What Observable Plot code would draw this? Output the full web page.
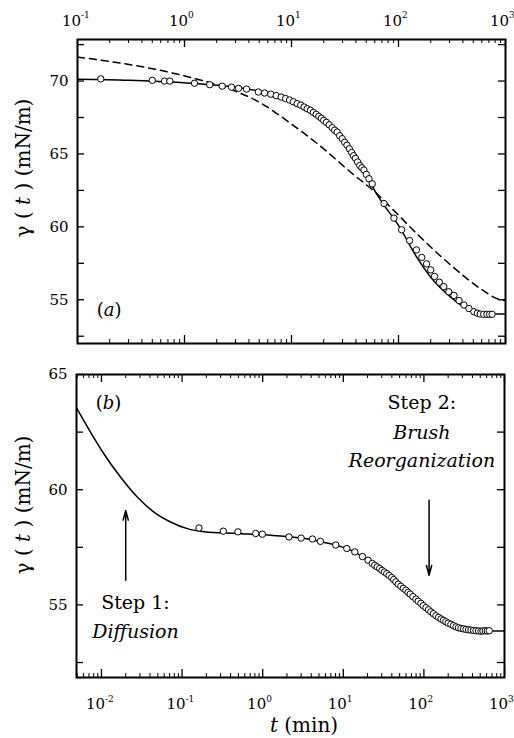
<!DOCTYPE html>
<html><head><meta charset="utf-8">
<script src="https://cdn.jsdelivr.net/npm/d3@7"></script>
<script src="https://cdn.jsdelivr.net/npm/@observablehq/plot@0.6"></script>
<style>
html,body{margin:0;padding:0;background:#fff;overflow:hidden;}
#chart svg{display:block;}
</style></head><body><div id="chart"></div>
<script>
// ---------- Panel (a) ----------
const aDataT = [0.165,0.50,0.65,0.73,1.24,1.72,2.25,2.75,3.2,3.8,4.9,5.6,6.4,7.2,8.0,8.8,9.6,10.4,11.3,12.2,13.1,14.0,15.0,16.0,17.0,18.0,19.0,20.0,21.2,22.5,24.0,25.3,26.7,28.2,29.8,31.4,33.0,34.7,36.5,38.0,39.6,41.5,43.5,45.5,47.5,50.0,53.0,56.8,73.2,90.6,107,127,147,165,183,200,217,241,265,295,330,368,409,455,506,545,580,625,670,710,750];
const aDataG = [70.15,70.05,70.0,70.0,69.85,69.75,69.65,69.58,69.5,69.45,69.25,69.18,69.1,69.0,68.9,68.8,68.7,68.58,68.45,68.35,68.22,68.1,68.0,67.85,67.72,67.58,67.45,67.3,67.17,67.0,66.8,66.63,66.5,66.25,66.05,65.8,65.6,65.35,65.1,64.88,64.7,64.45,64.2,64.05,63.9,63.6,63.3,62.95,61.6,60.6,59.8,59.06,58.42,57.9,57.46,57.05,56.6,56.2,55.9,55.55,55.3,54.95,54.64,54.4,54.18,54.08,54.02,54.0,54.0,54.0,54.0];
const aFitT = [0.1,0.3,1,2,3,5,7,10,15,20,30,40,50,70,100,150,200,300,400,500,700,1000];
const aFitG = [70.12,70.05,69.88,69.72,69.58,69.3,69.0,68.6,68.0,67.35,65.95,64.6,63.45,61.7,60.1,57.85,56.55,55.25,54.55,54.2,54.04,54.02];
const aDashT = [0.1,0.2,0.5,1,2,3,5,10,20,35,60,100,150,300,600,850,1000];
const aDashG = [71.65,71.35,70.85,70.35,69.75,69.3,68.55,67.05,65.35,63.8,62.4,60.8,59.5,57.45,55.7,55.05,54.95];

// ---------- Panel (b) ----------
const bDataT = [0.162,0.325,0.493,0.82,0.99,2.12,3.0,4.14,5.2,8.07,11.05,13.9,17.3,20.3,22.9,24.5,26.3,28.3,30.2,32.3,34.6,37,39.8,42.2,44.9,48,51.7,55.5,59.7,63.5,67.6,73,79.6,85,91.8,98,106,114,122,131,141,152,163,175,187,200,216,232,250,268,288,310,333,358,384,413,443,476,511,540,577,610,647];
const bDataG = [58.34,58.2,58.17,58.1,58.07,57.95,57.9,57.86,57.76,57.6,57.45,57.3,57.1,56.94,56.8,56.72,56.65,56.58,56.5,56.43,56.36,56.28,56.19,56.1,56.0,55.9,55.81,55.72,55.64,55.55,55.47,55.36,55.25,55.16,55.07,54.97,54.88,54.79,54.7,54.62,54.53,54.46,54.39,54.33,54.27,54.21,54.16,54.1,54.05,54.01,53.98,53.96,53.94,53.92,53.91,53.89,53.88,53.87,53.86,53.87,53.88,53.87,53.88];
const bFitT = [0.0049,0.0073,0.0107,0.0172,0.0278,0.0447,0.072,0.116,0.187,0.485,1.26,3,5,8,12,20,30,45,60,80,100,150,200,300,500,1000];
const bFitG = [63.55,62.5,61.56,60.55,59.68,59.03,58.6,58.31,58.18,58.1,58.02,57.9,57.76,57.6,57.4,56.95,56.5,56.0,55.62,55.25,54.95,54.45,54.2,53.96,53.87,53.87];

// ---------- Axes ticks / labels ----------
const decadesA = [0.1,1,10,100,1000];
const expA = ["-1","0","1","2","3"];
const decadesB = [0.01,0.1,1,10,100,1000];
const expB = ["-2","-1","0","1","2","3"];
const yLabelTicksA = [55,60,65,70];
const yMinorA = [52.5,57.5,62.5,67.5,72.5];
const yLabelTicksB = [55,60,65];
const yMinorB = [52.5,57.5,62.5];
const yLabel = [["γ ( ",false],["t",true],[" ) (mN/m)",false]];
const xLabel = [["t",true],[" (min)",false]];

const toRows = (T, G) => T.map((t, i) => ({t, g: G[i]}));
const minorOf = (dom, dec) => d3.scaleLog().domain(dom).ticks().filter(v => !dec.some(d => Math.abs(v - d) / d < 1e-9));

const FONT = "DejaVu Serif";
const W = 514;

function frameTicks(xMajor, xMinor, yMajor, fw, fh) {
  return [
    Plot.tickX(xMajor, {x: d => d, insetTop: fh - 8, strokeWidth: 1.3}),
    Plot.tickX(xMajor, {x: d => d, insetBottom: fh - 8, strokeWidth: 1.3}),
    Plot.tickX(xMinor, {x: d => d, insetTop: fh - 4}),
    Plot.tickX(xMinor, {x: d => d, insetBottom: fh - 4}),
    Plot.tickY(yMajor, {y: d => d, insetRight: fw - 7, strokeWidth: 1.3}),
    Plot.tickY(yMajor, {y: d => d, insetLeft: fw - 7, strokeWidth: 1.3})
  ];
}

function mixedText(svg, x, y, parts, size, rotate = 0, anchor = "middle") {
  const t = d3.select(svg).append("text")
    .attr("transform", `translate(${x},${y})` + (rotate ? ` rotate(${rotate})` : ""))
    .attr("text-anchor", anchor)
    .attr("font-family", FONT)
    .attr("font-size", size)
    .attr("fill", "black");
  for (const [s, it] of parts) t.append("tspan").attr("font-style", it ? "italic" : "normal").text(s);
}

// ---------- Plot (a) ----------
const mA = {top: 39, bottom: 15, left: 77, right: 9}, hA = 358;
const fwA = W - mA.left - mA.right, fhA = hA - mA.top - mA.bottom;
const xDomA = [0.1, 1000];
const plotA = Plot.plot({
  width: W, height: hA,
  marginTop: mA.top, marginBottom: mA.bottom, marginLeft: mA.left, marginRight: mA.right,
  style: {fontFamily: FONT, fontSize: "15px", color: "black", background: "white"},
  x: {type: "log", domain: xDomA, axis: null},
  y: {domain: [52, 72.85], label: null},
  marks: [
    ...frameTicks(decadesA, minorOf(xDomA, decadesA), [...yLabelTicksA, ...yMinorA], fwA, fhA),
    Plot.axisY({ticks: yLabelTicksA, tickSize: 0, tickPadding: 9, label: null, fontSize: 15}),
    Plot.text(decadesA, {x: d => d, frameAnchor: "top", lineAnchor: "bottom", dy: -14, dx: 3.5, textAnchor: "end", text: () => "10", fontSize: 15}),
    Plot.text(decadesA, {x: d => d, frameAnchor: "top", lineAnchor: "bottom", dy: -22, dx: 3.5, textAnchor: "start", text: (d, i) => expA[i], fontSize: 9}),
    Plot.line(toRows(aDashT, aDashG), {x: "t", y: "g", stroke: "black", strokeWidth: 1.5, strokeDasharray: "7,5", curve: "monotone-x"}),
    Plot.line(toRows(aFitT, aFitG), {x: "t", y: "g", stroke: "black", strokeWidth: 1.5, curve: "monotone-x"}),
    Plot.dot(toRows(aDataT, aDataG), {x: "t", y: "g", r: 3.2, stroke: "black", fill: "white", strokeWidth: 1}),
    Plot.frame({stroke: "black", strokeWidth: 2})
  ]
});

// ---------- Plot (b) ----------
const mB = {top: 16, bottom: 61, left: 76, right: 10}, hB = 380;
const fwB = W - mB.left - mB.right, fhB = hB - mB.top - mB.bottom;
const xDomB = [0.0049, 1000];
const plotB = Plot.plot({
  width: W, height: hB,
  marginTop: mB.top, marginBottom: mB.bottom, marginLeft: mB.left, marginRight: mB.right,
  style: {fontFamily: FONT, fontSize: "15px", color: "black", background: "white"},
  x: {type: "log", domain: xDomB, axis: null},
  y: {domain: [51.85, 65], label: null},
  marks: [
    ...frameTicks(decadesB, minorOf(xDomB, decadesB), [...yLabelTicksB, ...yMinorB], fwB, fhB),
    Plot.axisY({ticks: yLabelTicksB, tickSize: 0, tickPadding: 9, label: null, fontSize: 15}),
    Plot.text(decadesB, {x: d => d, frameAnchor: "bottom", lineAnchor: "bottom", dy: 31, dx: 3.5, textAnchor: "end", text: () => "10", fontSize: 15}),
    Plot.text(decadesB, {x: d => d, frameAnchor: "bottom", lineAnchor: "bottom", dy: 24, dx: 3.5, textAnchor: "start", text: (d, i) => expB[i], fontSize: 9}),
    Plot.line(toRows(bFitT, bFitG), {x: "t", y: "g", stroke: "black", strokeWidth: 1.5, curve: "monotone-x"}),
    Plot.dot(toRows(bDataT, bDataG), {x: "t", y: "g", r: 3.2, stroke: "black", fill: "white", strokeWidth: 1}),
    Plot.arrow([{x1: 0.02, y1: 56.07, x2: 0.02, y2: 59.1}, {x1: 116, y1: 59.54, x2: 116, y2: 56.29}],
      {x1: "x1", y1: "y1", x2: "x2", y2: "y2", stroke: "black", strokeWidth: 1.5, headLength: 10, headAngle: 30}),
    Plot.text([{t: 94.4, g: 63.78, s: "Step 2:"}, {t: 0.0264, g: 55.08, s: "Step 1:"}],
      {x: "t", y: "g", text: "s", fontSize: 19, lineAnchor: "middle"}),
    Plot.text([{t: 94.4, g: 62.48, s: "Brush"}, {t: 94.4, g: 61.23, s: "Reorganization"}, {t: 0.0264, g: 53.82, s: "Diffusion"}],
      {x: "t", y: "g", text: "s", fontSize: 19, fontStyle: "italic", lineAnchor: "middle"}),
    Plot.frame({stroke: "black", strokeWidth: 2})
  ]
});

// Mixed-style labels
const sxA = plotA.scale("x"), syA = plotA.scale("y");
mixedText(plotA, sxA.apply(0.2), syA.apply(54.25) + 6, [["(",false],["a",true],[")",false]], 18);
mixedText(plotA, 30, 168, yLabel, 20, -90);
const sxB = plotB.scale("x"), syB = plotB.scale("y");
mixedText(plotB, sxB.apply(0.0124), syB.apply(63.74) + 6, [["(",false],["b",true],[")",false]], 18);
mixedText(plotB, 30, 147, yLabel, 20, -90);
mixedText(plotB, 304, 374, xLabel, 20);

document.getElementById("chart").append(plotA, plotB);
</script></body></html>
